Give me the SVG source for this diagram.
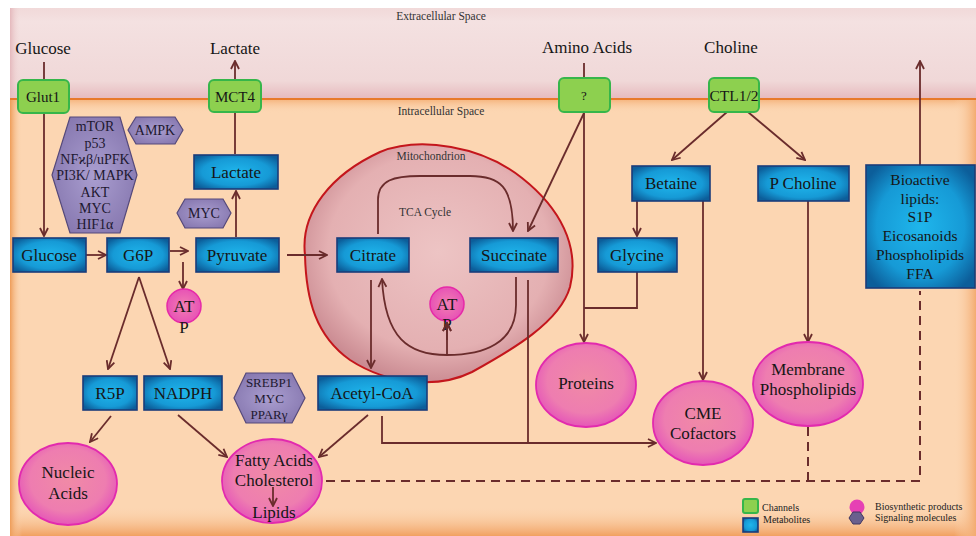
<svg xmlns="http://www.w3.org/2000/svg" width="976" height="536" viewBox="0 0 976 536">
<defs>
<style>
text{font-family:"Liberation Serif","Times New Roman",serif;fill:#161616;text-anchor:middle}
.lab{font-size:17px}
.sm{font-size:11.5px;fill:#333}
.bx{fill:url(#gBlue);stroke:#1b3c7a;stroke-width:1.6}
.bt{font-size:17px}
.ch{fill:#8dd04f;stroke:#36b64a;stroke-width:2}
.ct{font-size:15px}
.hx{fill:url(#gHex);stroke:#55497a;stroke-width:1.2}
.ht{font-size:14px;fill:#1e1830}
.el{fill:url(#gPink);stroke:#e22aae;stroke-width:1.8}
.atp{fill:url(#gAtp);stroke:#e62aa8;stroke-width:1.5}
.cn{fill:none;stroke:#6a2c2c;stroke-width:1.8}
.ar{marker-end:url(#ah)}
.ds{fill:none;stroke:#6a2c2c;stroke-width:2;stroke-dasharray:9 6}
.lg{font-size:10px;text-anchor:start;fill:#222}
</style>
<marker id="ah" viewBox="0 0 10 10" refX="9" refY="5" markerWidth="10" markerHeight="10" markerUnits="userSpaceOnUse" orient="auto">
<path d="M1,1 L9,5 L1,9" fill="none" stroke="#6a2c2c" stroke-width="1.8"/>
</marker>
<radialGradient id="gBlue" cx="0.5" cy="0.5" r="0.62">
<stop offset="0" stop-color="#1fb6ec"/>
<stop offset="0.65" stop-color="#169ad6"/>
<stop offset="1" stop-color="#0c5e9a"/>
</radialGradient>
<radialGradient id="gPink" cx="0.5" cy="0.45" r="0.55">
<stop offset="0" stop-color="#f08aa6"/>
<stop offset="0.7" stop-color="#ee7db0"/>
<stop offset="1" stop-color="#e556b8"/>
</radialGradient>
<radialGradient id="gAtp" cx="0.5" cy="0.5" r="0.55">
<stop offset="0" stop-color="#f27fb2"/>
<stop offset="1" stop-color="#e64eb6"/>
</radialGradient>
<radialGradient id="gHex" cx="0.5" cy="0.5" r="0.6">
<stop offset="0" stop-color="#aa9ed0"/>
<stop offset="1" stop-color="#8576ae"/>
</radialGradient>
<radialGradient id="gMito" cx="0.5" cy="0.45" r="0.55">
<stop offset="0" stop-color="#edc4c4"/>
<stop offset="0.75" stop-color="#e4b0b2"/>
<stop offset="1" stop-color="#cb8c93"/>
</radialGradient>
<linearGradient id="gExt" x1="0" y1="0" x2="0" y2="1">
<stop offset="0" stop-color="#f1d9d9"/>
<stop offset="0.15" stop-color="#f4e1e1"/>
<stop offset="0.8" stop-color="#f0d8d8"/>
<stop offset="1" stop-color="#e6b9bd"/>
</linearGradient>
<linearGradient id="gIntTop" x1="0" y1="0" x2="0" y2="1">
<stop offset="0" stop-color="#f5b27a"/>
<stop offset="1" stop-color="#fcd6b2" stop-opacity="0"/>
</linearGradient>
<linearGradient id="gIntBot" x1="0" y1="0" x2="0" y2="1">
<stop offset="0" stop-color="#fcd6b2" stop-opacity="0"/>
<stop offset="1" stop-color="#f1a060"/>
</linearGradient>
<linearGradient id="gIntL" x1="0" y1="0" x2="1" y2="0">
<stop offset="0" stop-color="#ee9c58"/>
<stop offset="1" stop-color="#fcd6b2" stop-opacity="0"/>
</linearGradient>
<linearGradient id="gIntR" x1="0" y1="0" x2="1" y2="0">
<stop offset="0" stop-color="#fcd6b2" stop-opacity="0"/>
<stop offset="1" stop-color="#f3ab70"/>
</linearGradient>
<linearGradient id="gExtL" x1="0" y1="0" x2="1" y2="0">
<stop offset="0" stop-color="#e4b8bc"/>
<stop offset="1" stop-color="#f1d9d9" stop-opacity="0"/>
</linearGradient>
</defs>

<g id="background">
<rect x="0" y="0" width="976" height="536" fill="#ffffff"/>
<rect x="10" y="8" width="966" height="91" fill="url(#gExt)"/>
<rect x="10" y="8" width="10" height="91" fill="url(#gExtL)"/>
<rect x="10" y="99" width="966" height="437" fill="#fcd6b2"/>
<rect x="10" y="99" width="966" height="14" fill="url(#gIntTop)"/>
<rect x="10" y="506" width="966" height="30" fill="url(#gIntBot)"/>
<rect x="10" y="99" width="12" height="437" fill="url(#gIntL)"/>
<rect x="954" y="99" width="22" height="437" fill="url(#gIntR)"/>
<line x1="10" y1="99" x2="976" y2="99" stroke="#e8792a" stroke-width="2"/>
<text x="441" y="20" class="sm">Extracellular Space</text>
<text x="441" y="115" class="sm">Intracellular Space</text>
</g>

<g id="mitochondrion">
<path d="M305,255 C300,212 332,174 380,152 C420,136 482,146 522,178 C560,208 580,246 570,287 C560,322 512,350 472,372 C440,388 390,386 350,360 C316,336 306,300 305,255 Z" fill="url(#gMito)" stroke="#c4161c" stroke-width="2"/>
<text x="431" y="160" class="sm">Mitochondrion</text>
<text x="425" y="216" class="sm">TCA Cycle</text>
</g>

<g id="connectors">
<path class="cn ar" d="M44,62 L44,236"/>
<path class="cn ar" d="M86,255 L106,255"/>
<path class="cn ar" d="M170,251 L188,251"/>
<path class="cn ar" d="M183,262 L183,289"/>
<path class="cn ar" d="M236,237 L236,191"/>
<path class="cn" d="M235,154 L235,113"/>
<path class="cn ar" d="M235,80 L235,61"/>
<path class="cn ar" d="M287,255 L327,255"/>
<path class="cn ar" d="M378,234 L378,200 C378,180 394,176 420,176 L470,176 C500,176 513,186 513,231"/>
<path class="cn ar" d="M516,277 L516,305 C516,343 484,355 447,355 C408,355 385,338 382,279"/>
<path class="cn ar" d="M447,355 L447,323"/>
<path class="cn" d="M584,63 L584,78"/>
<path class="cn ar" d="M584,113 L528,231"/>
<path class="cn ar" d="M584,113 L584,342"/>
<path class="cn" d="M637,272 L637,308 L584,308"/>
<path class="cn ar" d="M727,112 L672,160"/>
<path class="cn ar" d="M748,112 L805,160"/>
<path class="cn ar" d="M637,201 L637,236"/>
<path class="cn ar" d="M703,201 L703,380"/>
<path class="cn ar" d="M808,201 L808,342"/>
<path class="cn ar" d="M920,165 L920,61"/>
<path class="cn ar" d="M139,277 L108,369"/>
<path class="cn ar" d="M139,277 L170,369"/>
<path class="cn ar" d="M371,280 L371,368"/>
<path class="cn ar" d="M382,416 L382,443 L656,443"/>
<path class="cn" d="M528,280 L528,443"/>
<path class="cn ar" d="M111,416 L90,442"/>
<path class="cn ar" d="M178,415 L227,457"/>
<path class="cn ar" d="M368,415 L319,457"/>
<path class="ds" d="M326,481 L920,481 L920,291"/>
<path class="ds" d="M808,427 L808,481"/>
</g>

<g id="labels">
<text x="43" y="54" class="lab">Glucose</text>
<text x="235" y="54" class="lab">Lactate</text>
<text x="587" y="53" class="lab">Amino Acids</text>
<text x="731" y="53" class="lab">Choline</text>
</g>

<g id="glut1"><rect x="18" y="80" width="51" height="33" rx="5" class="ch"/><text x="43" y="102" class="ct">Glut1</text></g>
<g id="mct4"><rect x="209" y="80" width="52" height="32" rx="5" class="ch"/><text x="235" y="102" class="ct">MCT4</text></g>
<g id="aa-channel"><rect x="559" y="78" width="51" height="34" rx="5" class="ch"/><text x="584" y="100" style="font-size:13px">?</text></g>
<g id="ctl12"><rect x="709" y="78" width="50" height="34" rx="5" class="ch"/><text x="734" y="101" style="font-size:15.5px">CTL1/2</text></g>

<g id="signal-main">
<polygon points="70,117 120,117 137,175 120,233 70,233 52,175" class="hx"/>
<text x="95" y="131" class="ht">mTOR</text>
<text x="95" y="148" class="ht">p53</text>
<text x="95" y="164" class="ht">NFϰβ/uPFK</text>
<text x="95" y="180" class="ht">PI3K/ MAPK</text>
<text x="95" y="197" class="ht">AKT</text>
<text x="95" y="213" class="ht">MYC</text>
<text x="95" y="229" class="ht">HIF1α</text>
</g>
<g id="ampk"><polygon points="128,130 136,117 175,117 183,130 175,144 136,144" class="hx"/><text x="155" y="135" class="ht">AMPK</text></g>
<g id="myc"><polygon points="177,213 185,199 223,199 231,213 223,228 185,228" class="hx"/><text x="204" y="218" class="ht">MYC</text></g>
<g id="srebp"><polygon points="234,398 246,373 292,373 305,398 292,423 246,423" class="hx"/>
<text x="269" y="387" style="font-size:13px;fill:#1e1830">SREBP1</text>
<text x="269" y="403" style="font-size:13px;fill:#1e1830">MYC</text>
<text x="269" y="419" style="font-size:13px;fill:#1e1830">PPARγ</text></g>

<g id="lactate-box"><rect x="194" y="155" width="84" height="34" class="bx"/><text x="236" y="178" class="bt">Lactate</text></g>
<g id="glucose-box"><rect x="13" y="238" width="73" height="34" class="bx"/><text x="49" y="261" class="bt">Glucose</text></g>
<g id="g6p"><rect x="107" y="238" width="62" height="34" class="bx"/><text x="138" y="261" class="bt">G6P</text></g>
<g id="pyruvate"><rect x="196" y="238" width="83" height="34" class="bx"/><text x="237" y="261" class="bt">Pyruvate</text></g>
<g id="citrate"><rect x="337" y="238" width="72" height="34" class="bx"/><text x="373" y="261" class="bt">Citrate</text></g>
<g id="succinate"><rect x="470" y="238" width="88" height="34" class="bx"/><text x="514" y="261" class="bt">Succinate</text></g>
<g id="betaine"><rect x="632" y="166" width="78" height="35" class="bx"/><text x="671" y="189" class="bt">Betaine</text></g>
<g id="pcholine"><rect x="758" y="166" width="91" height="35" class="bx"/><text x="803" y="189" class="bt">P Choline</text></g>
<g id="glycine"><rect x="598" y="238" width="79" height="34" class="bx"/><text x="637" y="261" class="bt">Glycine</text></g>
<g id="bioactive"><rect x="866" y="165" width="109" height="123" class="bx"/>
<text x="920" y="185" style="font-size:15.5px">Bioactive</text>
<text x="920" y="204" style="font-size:15.5px">lipids:</text>
<text x="920" y="222" style="font-size:15.5px">S1P</text>
<text x="920" y="241" style="font-size:15.5px">Eicosanoids</text>
<text x="920" y="260" style="font-size:15.5px">Phospholipids</text>
<text x="920" y="279" style="font-size:15.5px">FFA</text></g>
<g id="r5p"><rect x="83" y="376" width="54" height="34" class="bx"/><text x="110" y="399" class="bt">R5P</text></g>
<g id="nadph"><rect x="144" y="376" width="78" height="34" class="bx"/><text x="183" y="399" class="bt">NADPH</text></g>
<g id="acetylcoa"><rect x="318" y="376" width="109" height="34" class="bx"/><text x="372" y="399" class="bt">Acetyl-CoA</text></g>

<g id="atp1"><circle cx="184" cy="306" r="17" class="atp"/><text x="184" y="312" class="bt">AT</text><text x="184" y="333" class="bt">P</text></g>
<g id="atp2"><circle cx="447" cy="304" r="17" class="atp"/><text x="447" y="310" class="bt">AT</text><text x="447" y="330" class="bt">P</text><path class="cn ar" d="M447,340 L447,323"/></g>

<g id="nucleic"><ellipse cx="68" cy="484" rx="49" ry="41" class="el"/><text x="68" y="478" class="bt">Nucleic</text><text x="68" y="499" class="bt">Acids</text></g>
<g id="fatty"><ellipse cx="272" cy="481" rx="50" ry="42" class="el"/><text x="274" y="466" class="bt">Fatty Acids</text><text x="274" y="486" class="bt">Cholesterol</text><path class="cn ar" d="M273,487 L273,506"/><text x="274" y="518" class="bt">Lipids</text></g>
<g id="proteins"><ellipse cx="586" cy="385" rx="50" ry="42" class="el"/><text x="586" y="389" class="bt">Proteins</text></g>
<g id="cme"><ellipse cx="703" cy="423" rx="50" ry="42" class="el"/><text x="703" y="419" class="bt">CME</text><text x="703" y="439" class="bt">Cofactors</text></g>
<g id="membrane"><ellipse cx="808" cy="384" rx="55" ry="42" class="el"/><text x="808" y="375" class="bt">Membrane</text><text x="808" y="395" class="bt">Phospholipids</text></g>

<g id="legend">
<rect x="743" y="499" width="15" height="14" rx="2" class="ch" stroke-width="1.5"/>
<text x="762" y="511" class="lg">Channels</text>
<rect x="743" y="518" width="15" height="14" class="bx"/>
<text x="763" y="523" class="lg">Metabolites</text>
<circle cx="857" cy="507" r="7.5" fill="#e640b4"/>
<text x="875" y="510" class="lg">Biosynthetic products</text>
<polygon points="849,518 853,512 860,512 864,518 860,524 853,524" fill="#6a608e" stroke="#403660" stroke-width="1"/>
<text x="875" y="521" class="lg">Signaling molecules</text>
</g>
</svg>
